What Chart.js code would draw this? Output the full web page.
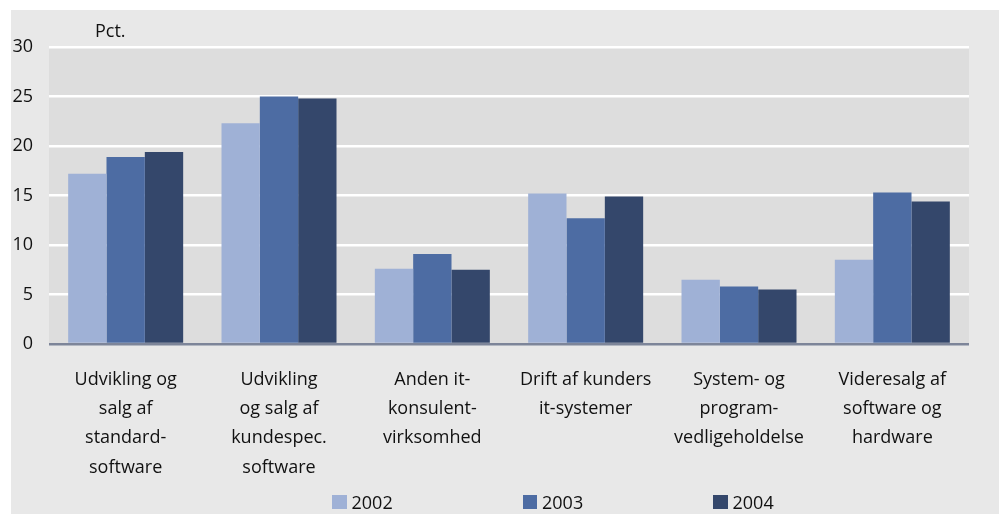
<!DOCTYPE html>
<html><head><meta charset="utf-8">
<script src="https://cdn.jsdelivr.net/npm/chart.js@4"></script>
<style>
html,body{margin:0;padding:0;background:#fff;width:999px;height:514px;overflow:hidden;}
#panel{position:absolute;left:11px;top:10px;width:988px;height:504px;background:#e8e8e8;}
#c{position:absolute;left:0;top:0;}
#legend{position:absolute;left:321px;top:480px;display:flex;font-family:'Open Sans',sans-serif;font-size:18px;color:#111;}
.item{width:190.5px;display:flex;align-items:center;height:24px;}
.sw{width:14.5px;height:14.5px;margin-right:5px;flex:none;}
</style></head>
<body><div id="panel"><canvas id="c" width="988" height="504"></canvas><div id="legend"></div></div>
<script>
const categories = [
  ["Udvikling og","salg af","standard-","software"],
  ["Udvikling","og salg af","kundespec.","software"],
  ["Anden it-","konsulent-","virksomhed"],
  ["Drift af kunders","it-systemer"],
  ["System- og","program-","vedligeholdelse"],
  ["Videresalg af","software og","hardware"]
];
const seriesNames = ["2002","2003","2004"];
const values2002 = [17.2, 22.3, 7.6, 15.2, 6.5, 8.5];
const values2003 = [18.9, 25.0, 9.1, 12.7, 5.8, 15.3];
const values2004 = [19.4, 24.8, 7.5, 14.9, 5.5, 14.4];
const yTicks = [0, 5, 10, 15, 20, 25, 30];
const unitLabel = "Pct.";

const colors = ["#9fb1d6", "#4d6ca3", "#34476b"];
const FONT = "'Open Sans', sans-serif";
const seriesValues = [values2002, values2003, values2004];

const plotBg = {
  id: 'plotBg',
  beforeDraw(chart) {
    const {ctx, chartArea: a} = chart;
    ctx.save();
    ctx.fillStyle = '#dddddd';
    ctx.fillRect(a.left, a.top, a.right - a.left, a.bottom - a.top);
    ctx.restore();
  },
  afterDraw(chart) {
    const {ctx, chartArea: a} = chart;
    ctx.save();
    ctx.font = "18px " + FONT;
    ctx.fillStyle = '#111';
    ctx.textBaseline = 'alphabetic';
    ctx.textAlign = 'left';
    ctx.fillText(unitLabel, a.left + 46, a.top - 10.5);
    ctx.restore();
  }
};

const chart = new Chart(document.getElementById('c'), {
  type: 'bar',
  data: {
    labels: categories,
    datasets: seriesNames.map((n, i) => ({
      label: n,
      data: seriesValues[i],
      backgroundColor: colors[i],
      borderWidth: 0,
      categoryPercentage: 0.75,
      barPercentage: 1.0
    }))
  },
  options: {
    responsive: false,
    animation: false,
    layout: { padding: { left: 0, right: 30, top: 37, bottom: 40 } },
    plugins: { legend: { display: false }, tooltip: { enabled: false } },
    scales: {
      x: {
        grid: { display: false, drawTicks: false },
        border: { display: false },
        ticks: {
          color: '#111',
          font: { family: FONT, size: 18, lineHeight: 1.63 },
          padding: 21,
          maxRotation: 0,
          autoSkip: false
        },
        afterFit(s) { s.height = 130; }
      },
      y: {
        min: 0, max: 30,
        afterBuildTicks(s) { s.ticks = yTicks.map(v => ({ value: v })); },
        grid: {
          drawTicks: false,
          color: c => c.tick && c.tick.value === 0 ? '#7d8599' : '#ffffff',
          lineWidth: 2.5
        },
        border: { display: false },
        ticks: {
          color: '#111',
          font: { family: FONT, size: 18 },
          padding: 16
        },
        afterFit(s) { s.width = 38; }
      }
    }
  },
  plugins: [plotBg]
});

const lg = document.getElementById('legend');
seriesNames.forEach((n, i) => {
  const it = document.createElement('div');
  it.className = 'item';
  const sw = document.createElement('span');
  sw.className = 'sw';
  sw.style.background = colors[i];
  const tx = document.createElement('span');
  tx.textContent = n;
  it.appendChild(sw); it.appendChild(tx);
  lg.appendChild(it);
});
</script>
</body></html>
